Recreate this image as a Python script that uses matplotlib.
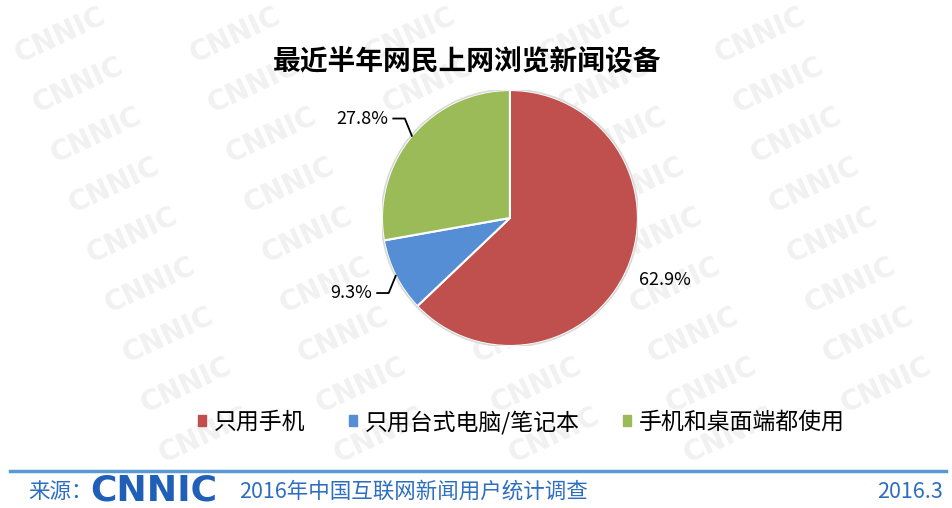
import numpy as np
import matplotlib
matplotlib.use("Agg")
from matplotlib import pyplot as plt

plt.rcParams["font.family"] = ["Noto Sans CJK SC", "DejaVu Sans"]

title = "最近半年网民上网浏览新闻设备"
categories = ["只用手机", "只用台式电脑/笔记本", "手机和桌面端都使用"]
values = [62.9, 9.3, 27.8]
colors = ["#C0504D", "#558ED5", "#9BBB59"]
source_text = "2016年中国互联网新闻用户统计调查"
date_text = "2016.3"

W, H = 953, 508
fig = plt.figure(figsize=(W / 100, H / 100), dpi=100)

# background watermark, tiled in slanted columns
for col in range(-2, 6):
    for row in range(0, 10):
        px = 60 + col * 175 + row * 18
        py = 35 + row * 50
        if px < 55 or px > W - 55 or py > H - 45:
            continue
        fig.text(px / W, 1 - py / H, "CNNIC", fontsize=20, fontweight="bold",
                 color="#f1f1f1", rotation=25, ha="center", va="center",
                 zorder=-5, family="DejaVu Sans")

fig.text(0.49, 0.878, title, fontsize=20, fontweight="black", ha="center", va="center")

ax = fig.add_axes([0.4008, 0.3189, 0.2686, 0.5039])
ax.patch.set_alpha(0)
wedges, _ = ax.pie(values, colors=colors, startangle=90, counterclock=False,
                   wedgeprops=dict(edgecolor="white", linewidth=1.5))
ax.add_patch(plt.Circle((0, 0), 1.005, fill=False, edgecolor="#d9d9d9", lw=1.2))
ax.set_xlim(-1, 1)
ax.set_ylim(-1, 1)
ax.set_aspect("equal")

# data labels
for w, v in zip(wedges, values):
    ang = np.deg2rad((w.theta1 + w.theta2) / 2)
    ex, ey = np.cos(ang), np.sin(ang)
    lab = f"{v:.1f}%"
    if ex > 0:
        ax.text(ex * 1.32, ey * 1.22, lab, fontsize=13, ha="center", va="center")
    else:
        sy = np.sign(ey)
        kx, ky = ex - 0.055, ey + sy * 0.135
        ax.plot([ex, kx, kx - 0.09], [ey, ky, ky], color="black", lw=1.3,
                clip_on=False)
        ax.text(kx - 0.13, ky, lab, fontsize=13, ha="right", va="center")

handles = [plt.Rectangle((0, 0), 1, 1, color=c) for c in colors]
fig.legend(handles, categories, loc="center", bbox_to_anchor=(0.547, 0.169), ncol=3,
           frameon=False, fontsize=16.5, handlelength=0.35, handleheight=0.35,
           columnspacing=1.9, handletextpad=0.35)

# footer
fig.add_artist(plt.Line2D([0.01, 0.993], [0.073, 0.073], color="#5B9BD5", lw=2.5))
blue = "#2E6EC0"
fig.text(0.03, 0.032, "来源：", fontsize=15.5, color=blue, va="center")
fig.text(0.095, 0.034, "CNNIC", fontsize=26, fontweight="black", color="#1F5FB8",
         va="center", family="DejaVu Sans")
fig.text(0.251, 0.032, source_text, fontsize=15.5, color=blue, va="center")
fig.text(0.989, 0.032, date_text, fontsize=15.5, color=blue, va="center", ha="right")

fig.savefig("out.png", dpi=100)
